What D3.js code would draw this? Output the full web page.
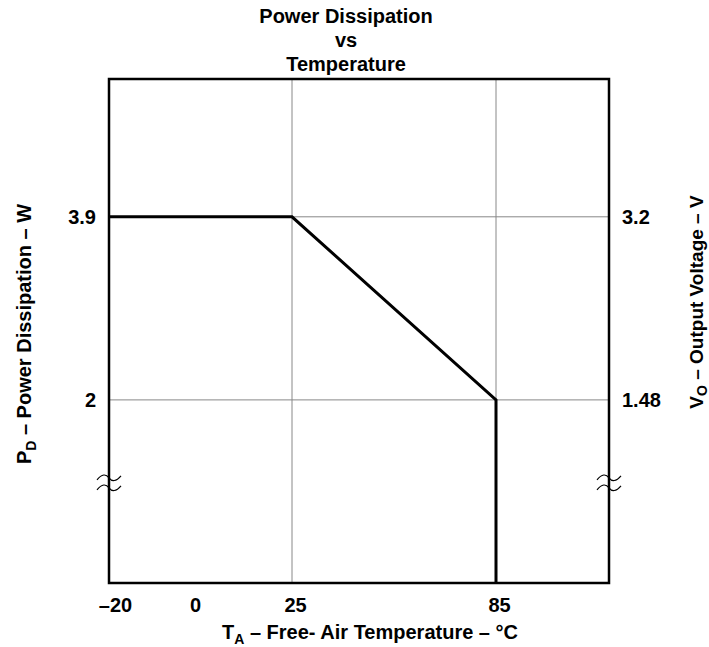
<!DOCTYPE html>
<html>
<head>
<meta charset="utf-8">
<script src="https://cdn.jsdelivr.net/npm/d3@7"></script>
<style>
  body { margin: 0; background: #fff; }
  text { font-family: "Liberation Sans", Arial, sans-serif; font-weight: bold; fill: #000; }
</style>
</head>
<body>
<div id="chart"></div>
<script>
// curve: derating, temperature (°C) vs power (W)
const tempC = [-22, 25, 85, 85];
const powerW = [3.9, 3.9, 2.0, 0.1];

const xTicks = [-20, 0, 25, 85];
const xGrid = [25, 85];
const yLeftTicks = [2, 3.9];
const yRightTicks = [1.48, 3.2];
const breakAt = 1.14;   // axis break mark (power scale)

const titleLines = ["Power Dissipation", "vs", "Temperature"];

const W = 709, H = 647;
const margin = { top: 79, right: 100, bottom: 64, left: 109 };
const width = W - margin.left - margin.right;
const height = H - margin.top - margin.bottom;

const svg = d3.select("#chart").append("svg")
  .attr("width", W)
  .attr("height", H);

const g = svg.append("g").attr("transform", `translate(${margin.left},${margin.top})`);

// schematic x axis, not linear across the whole range
const x = d3.scaleLinear()
  .domain([-22, -20, 0, 25, 85, 118])
  .range([0, 6, 86, 183, 387, width]);

const yL = d3.scaleLinear().domain([0.1, 5.33]).range([height, 0]);
const yR = d3.scaleLinear().domain([-0.24, 4.5]).range([height, 0]);

// grid
g.selectAll(".vgrid").data(xGrid).join("line")
  .attr("x1", d => x(d)).attr("x2", d => x(d))
  .attr("y1", 0).attr("y2", height)
  .style("stroke", "#888").style("stroke-width", 1);

g.selectAll(".hgrid").data(yLeftTicks).join("line")
  .attr("x1", 0).attr("x2", width)
  .attr("y1", d => yL(d)).attr("y2", d => yL(d))
  .style("stroke", "#888").style("stroke-width", 1);

// frame
g.append("rect")
  .attr("width", width).attr("height", height)
  .style("fill", "none").style("stroke", "#000").style("stroke-width", 2.5);

// axes
const fmt = d => d < 0 ? "\u2013" + (-d) : String(d);

const ax = g.append("g").attr("transform", `translate(0,${height})`)
  .call(d3.axisBottom(x).tickValues(xTicks).tickSize(0).tickPadding(15).tickFormat(fmt));
const ayl = g.append("g")
  .call(d3.axisLeft(yL).tickValues(yLeftTicks).tickSize(0).tickPadding(13).tickFormat(d => String(d)));
const ayr = g.append("g").attr("transform", `translate(${width},0)`)
  .call(d3.axisRight(yR).tickValues(yRightTicks).tickSize(0).tickPadding(13).tickFormat(d => String(d)));

[ax, ayl, ayr].forEach(a => {
  a.select(".domain").remove();
  a.selectAll("text")
    .style("font-family", "'Liberation Sans', Arial, sans-serif")
    .style("font-weight", "bold")
    .style("font-size", "20px")
    .style("fill", "#000");
});
// labels in the reference sit a little right of their grid lines
ax.selectAll(".tick text").attr("dx", d => d >= 25 ? 3 : 0);

// data curve
const line = d3.line().x(d => x(d[0])).y(d => yL(d[1]));
g.append("path")
  .datum(d3.zip(tempC, powerW))
  .attr("d", line)
  .style("fill", "none")
  .style("stroke", "#000")
  .style("stroke-width", 3)
  .style("stroke-linejoin", "miter");

// axis break marks
const tilde = "M-12,2 C-7,-4 -3,-4 0,0 S7,4 12,-2";
[0, width].forEach(px => {
  [-5, 5].forEach(off => {
    g.append("path")
      .attr("transform", `translate(${px},${yL(breakAt) + off})`)
      .attr("d", tilde)
      .style("fill", "none").style("stroke", "#000").style("stroke-width", 1.2);
  });
});

// title
svg.append("text")
  .attr("text-anchor", "middle")
  .style("font-size", "20px")
  .selectAll("tspan").data(titleLines).join("tspan")
  .attr("x", 346)
  .attr("y", (d, i) => 23 + i * 24)
  .text(d => d);

// x axis title
const xt = svg.append("text")
  .attr("x", 370).attr("y", 639)
  .attr("text-anchor", "middle")
  .style("font-size", "20px");
xt.append("tspan").text("T");
xt.append("tspan").attr("dy", 5).style("font-size", "14px").text("A");
xt.append("tspan").attr("dy", -5).text(" \u2013 Free- Air Temperature \u2013 \u00B0C");

// left y title
const yt = svg.append("text")
  .attr("transform", "translate(31,334) rotate(-90)")
  .attr("text-anchor", "middle")
  .style("font-size", "20px");
yt.append("tspan").text("P");
yt.append("tspan").attr("dy", 5).style("font-size", "14px").text("D");
yt.append("tspan").attr("dy", -5).text(" \u2013 Power Dissipation \u2013 W");

// right y title
const yt2 = svg.append("text")
  .attr("transform", "translate(703,302) rotate(-90)")
  .attr("text-anchor", "middle")
  .style("font-size", "19px");
yt2.append("tspan").text("V");
yt2.append("tspan").attr("dy", 4).style("font-size", "14px").text("O");
yt2.append("tspan").attr("dy", -4).text(" \u2013 Output Voltage \u2013 V");
</script>
</body>
</html>
